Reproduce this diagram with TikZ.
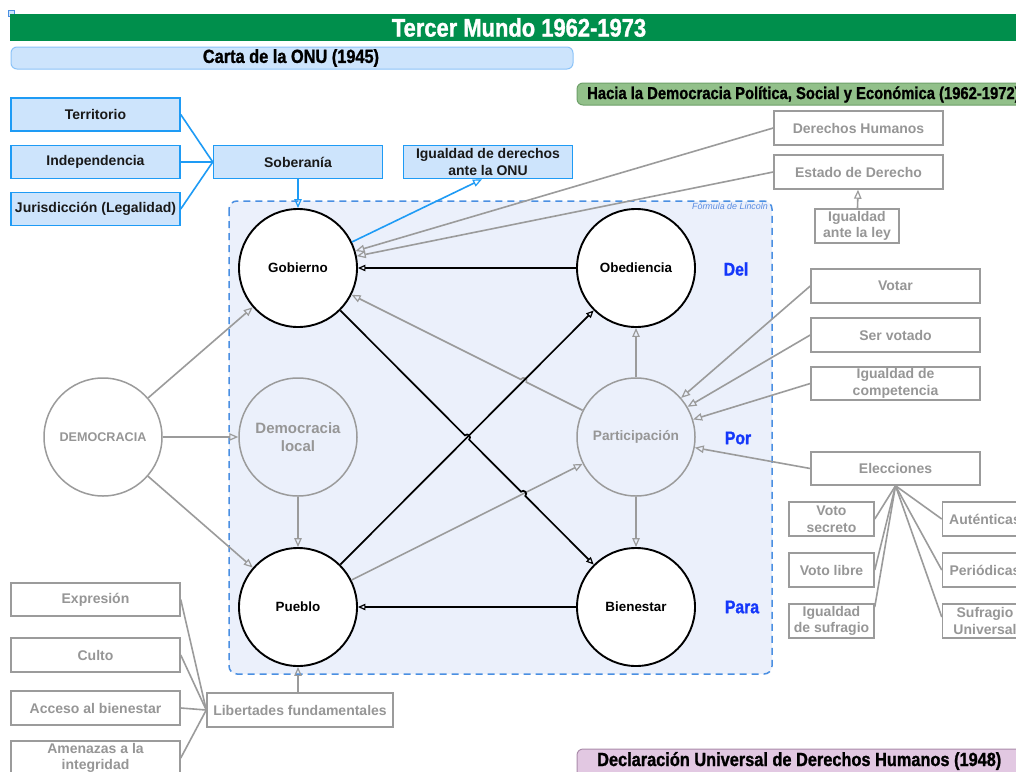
\documentclass[tikz,border=0pt]{standalone}
\usepackage{fontspec}
\setmainfont{Liberation Sans}
\newfontfamily\condfont[FakeStretch=0.86,FakeBold=1.2]{Liberation Sans}
\usetikzlibrary{arrows.meta,calc}

\definecolor{titlegreen}{RGB}{0,143,76}
\definecolor{onufill}{RGB}{205,228,252}
\definecolor{onuline}{RGB}{30,155,245}
\definecolor{cartaline}{RGB}{140,195,248}
\definecolor{haciafill}{RGB}{146,192,138}
\definecolor{hacialine}{RGB}{110,160,105}
\definecolor{declfill}{RGB}{226,200,226}
\definecolor{declline}{RGB}{170,140,170}
\definecolor{zonefill}{RGB}{235,240,251}
\definecolor{zoneline}{RGB}{74,143,226}
\definecolor{softgray}{RGB}{155,155,155}
\definecolor{textgray}{RGB}{150,150,150}
\definecolor{prepblue}{RGB}{20,55,250}
\definecolor{lincolnblue}{RGB}{90,140,225}

\tikzset{
  bluebox/.style={draw=onuline, fill=onufill, line width=1.5pt, minimum width=169pt,
    minimum height=33pt, inner sep=0pt, align=center, text=black!90,
    font=\fontsize{14}{16.5}\selectfont\bfseries},
  graybox/.style={draw=softgray, fill=white, line width=1.5pt, minimum width=169pt,
    minimum height=34pt, inner sep=0pt, align=center, text=textgray,
    font=\fontsize{14}{16.5}\selectfont\bfseries},
  smallbox/.style={graybox, minimum width=85pt},
  bigcirc/.style={circle, draw=black, line width=1.9pt, fill=white, minimum size=118pt,
    inner sep=0pt, font=\fontsize{13.4}{16}\selectfont\bfseries},
  graycirc/.style={circle, draw=softgray, line width=1.5pt, minimum size=118pt,
    inner sep=0pt, align=center, text=textgray},
  prep/.style={text=prepblue, font=\condfont\bfseries\fontsize{18.3}{20}\selectfont},
  openhead/.tip={Triangle[open,length=9pt,width=7.5pt,line width=1.2pt]},
  blackarrow/.style={draw=black, line width=1.7pt, -{Triangle[open,length=7.5pt,width=6.5pt,line width=1.2pt]}},
  grayarrow/.style={draw=softgray, line width=1.6pt, -openhead},
  grayline/.style={draw=softgray, line width=1.6pt},
  blueline/.style={draw=onuline, line width=1.6pt},
  bluearrow/.style={blueline, -openhead},
}

\begin{document}
\begin{tikzpicture}[x=1pt,y=-1pt]
\useasboundingbox (0,0) rectangle (1016,771);
\clip (0,0) rectangle (1016,771);
\fill[white] (0,0) rectangle (1016,771);

% corner marker
\draw[zoneline, fill=onufill, line width=0.8pt] (8,10) rectangle (14,16);

% banners
\fill[titlegreen] (10,14) rectangle (1030,41);
\node[text=white, font=\condfont\bfseries\fontsize{25.5}{28}\selectfont] (title) at (519,27.5) {Tercer Mundo 1962-1973};

\draw[cartaline, fill=onufill, line width=1pt, rounded corners=6pt] (11,47) rectangle (573,69);
\node[font=\condfont\bfseries\fontsize{19}{22}\selectfont] (carta) at (291,58) {Carta de la ONU (1945)};

\draw[hacialine, fill=haciafill, line width=1pt, rounded corners=6pt] (577,83) rectangle (1040,105);
\node[anchor=west, inner sep=0pt, font=\condfont\bfseries\fontsize{17.2}{20}\selectfont] (hacia) at (587,94.5) {Hacia la Democracia Política, Social y Económica (1962-1972)};

\draw[declline, fill=declfill, line width=1pt, rounded corners=6pt] (577,749) rectangle (1040,790);
\node[anchor=west, inner sep=0pt, font=\condfont\bfseries\fontsize{19}{22}\selectfont] (decl) at (597,761) {Declaración Universal de Derechos Humanos (1948)};

% zone of the Lincoln formula
\draw[zoneline, line width=1.5pt, dash pattern=on 7pt off 5pt, fill=zonefill, rounded corners=8pt] (229,201) rectangle (772,674);
\node[anchor=north east, inner sep=0pt, text=lincolnblue, font=\itshape\fontsize{8.9}{10}\selectfont] (lincoln) at (768,203) {Fórmula de Lincoln};

% sovereignty boxes
\node[bluebox] (terr) at (95.5,114.5) {Territorio};
\node[bluebox] (indep) at (95.5,162) {Independencia};
\node[bluebox] (juris) at (95.5,209) {Jurisdicción (Legalidad)};
\node[bluebox] (sob) at (298,162) {Soberanía};
\node[bluebox] (igd) at (488,162) {Igualdad de derechos\\ante la ONU};

% main circles
\node[bigcirc] (gob) at (298,268) {Gobierno};
\node[bigcirc] (obe) at (636,268) {Obediencia};
\node[bigcirc] (pue) at (298,607) {Pueblo};
\node[bigcirc] (bien) at (636,607) {Bienestar};
\node[graycirc, fill=zonefill, font=\fontsize{15}{18}\selectfont\bfseries] (dloc) at (298,437) {Democracia\\local};
\node[graycirc, fill=zonefill, font=\fontsize{13.7}{16}\selectfont\bfseries] (part) at (636,437) {Participación};
\node[graycirc, fill=white, font=\fontsize{12.6}{15}\selectfont\bfseries] (demo) at (103,437) {DEMOCRACIA};

\node[prep] (del) at (736,269) {Del};
\node[prep] (por) at (738,438) {Por};
\node[prep] (para) at (742,607) {Para};

% right-hand boxes
\node[graybox] (dh) at (858.5,128) {Derechos Humanos};
\node[graybox] (edd) at (858.5,172) {Estado de Derecho};
\node[graybox, minimum width=84pt] (ial) at (857,226) {Igualdad\\ante la ley};
\node[graybox] (votar) at (895.5,286) {Votar};
\node[graybox] (servot) at (895.5,335) {Ser votado};
\node[graybox, minimum height=33pt] (igcomp) at (895.5,383.5) {Igualdad de\\competencia};
\node[graybox, minimum height=33pt] (elec) at (895.5,468.5) {Elecciones};
\node[smallbox] (vsec) at (831.5,519) {Voto\\secreto};
\node[smallbox] (vlib) at (831.5,570) {Voto libre};
\node[smallbox] (isuf) at (831.5,621) {Igualdad\\de sufragio};
\node[smallbox] (aut) at (985,519) {Auténticas};
\node[smallbox] (peri) at (985,570) {Periódicas};
\node[smallbox] (sufu) at (985,621) {Sufragio\\Universal};

% freedoms
\node[graybox, minimum width=186pt] (lib) at (300,710) {Libertades fundamentales};
\node[graybox, minimum height=33pt] (expr) at (95.5,599.5) {Expresión};
\node[graybox] (culto) at (95.5,655) {Culto};
\node[graybox] (acceso) at (95.5,708) {Acceso al bienestar};
\node[graybox] (amen) at (95.5,758) {Amenazas a la\\integridad};

% blue connectors
\draw[blueline] (terr.east) -- (sob.west);
\draw[blueline] (indep.east) -- (sob.west);
\draw[blueline] (juris.east) -- (sob.west);
\draw[bluearrow] (sob.south) -- (gob.north);
\draw[bluearrow] (gob) -- ([xshift=-6pt]igd.south);

% crossing points
\coordinate (xa) at (intersection of gob.center--bien.center and pue.center--obe.center);
\coordinate (xb) at (intersection of gob.center--bien.center and pue.center--part.center);
\coordinate (xc) at (intersection of part.center--gob.center and pue.center--obe.center);

% gray connectors
\draw[grayarrow] (demo) -- (gob);
\draw[grayarrow] (demo) -- (dloc);
\draw[grayarrow] (demo) -- (pue);
\draw[grayarrow] (dloc) -- (pue);
\draw[grayarrow] (part) -- (obe);
\draw[grayarrow] (part) -- (bien);
\draw[grayarrow] (pue) -- (part);
\draw[grayarrow] (part) -- ($(xc)!3pt!(part)$) to[bend right=90, looseness=1.7] ($(xc)!3pt!(gob)$) -- (gob);
\draw[grayarrow] (dh.west) -- (gob);
\draw[grayarrow] (edd.west) -- (gob);
\draw[grayarrow] (ial) -- (edd);
\draw[grayarrow] (votar.west) -- (part);
\draw[grayarrow] (servot.west) -- (part);
\draw[grayarrow] (igcomp.west) -- (part);
\draw[grayarrow] (elec.west) -- (part);
\draw[grayline] (elec.south) -- (vsec.east);
\draw[grayline] (elec.south) -- (vlib.east);
\draw[grayline] (elec.south) -- ([yshift=14pt]isuf.east);
\draw[grayline] (elec.south) -- (aut.west);
\draw[grayline] (elec.south) -- (peri.west);
\draw[grayline] (elec.south) -- ([yshift=4pt]sufu.west);
\draw[grayline] (expr.east) -- (lib.west);
\draw[grayline] (culto.east) -- (lib.west);
\draw[grayline] (acceso.east) -- (lib.west);
\draw[grayline] (amen.east) -- (lib.west);
\draw[grayarrow] (lib.north -| pue) -- (pue.south);

% black connectors
\draw[blackarrow] (obe) -- (gob);
\draw[blackarrow] (bien) -- (pue);
\draw[blackarrow] (pue) -- (obe);
\draw[blackarrow] (gob) -- ($(xa)!3pt!(gob)$) to[bend left=90, looseness=1.7] ($(xa)!3pt!(bien)$)
  -- ($(xb)!3pt!(gob)$) to[bend left=90, looseness=1.7] ($(xb)!3pt!(bien)$) -- (bien);
\end{tikzpicture}
\end{document}
